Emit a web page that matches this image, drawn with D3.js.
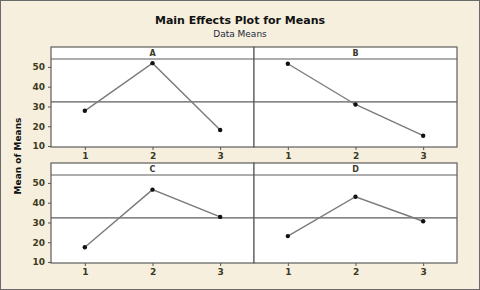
<!DOCTYPE html>
<html>
<head>
<meta charset="utf-8">
<script src="https://cdn.jsdelivr.net/npm/d3@7"></script>
<style>
  body { margin: 0; background: #f6efdd; }
  svg { display: block; }
  text { font-family: "DejaVu Sans", Verdana, sans-serif; }
</style>
</head>
<body>
<svg id="chart" width="480" height="290"></svg>
<script>
// factor levels and the means
const levels = [1, 2, 3];
const factors = ["A", "B", "C", "D"];
const meansA = [27.8, 51.9, 18.1];
const meansB = [51.6, 31.0, 15.2];
const meansC = [17.5, 46.6, 32.8];
const meansD = [23.1, 43.0, 30.6];
const grandMean = 32.3;
const yTicks = [10, 20, 30, 40, 50];

const seriesList = [meansA, meansB, meansC, meansD];

const width = 480, height = 290;
const left = 51, right = 457;
const colW = (right - left) / 2;
const rowTops = [47, 163];
const stripH = 12;
const plotH = 88;

const svg = d3.select("#chart");

// frame of the whole image
svg.append("rect")
	.attr("x", 0.5).attr("y", 0.5)
	.attr("width", width - 1).attr("height", height - 1)
	.attr("fill", "#f6efdd")
	.attr("stroke", "#6b6b6b")
	.attr("stroke-width", 1);

// titles
svg.append("text")
	.attr("x", 240).attr("y", 24)
	.attr("text-anchor", "middle")
	.style("font-size", "11px")
	.style("font-weight", "bold")
	.attr("fill", "#111")
	.text("Main Effects Plot for Means");

svg.append("text")
	.attr("x", 240).attr("y", 37)
	.attr("text-anchor", "middle")
	.style("font-size", "9px")
	.attr("fill", "#1f2a40")
	.text("Data Means");

svg.append("text")
	.attr("transform", `translate(21, 156) rotate(-90)`)
	.attr("text-anchor", "middle")
	.style("font-size", "9px")
	.style("font-weight", "bold")
	.attr("fill", "#111")
	.text("Mean of Means");

const xScale = d3.scaleLinear().domain([0.5, 3.5]).range([0, colW]);

factors.forEach((name, i) => {
	const col = i % 2;
	const row = Math.floor(i / 2);
	const x0 = left + col * colW;
	const stripTop = rowTops[row];
	const plotTop = stripTop + stripH;
	const plotBottom = plotTop + plotH;

	const yScale = d3.scaleLinear().domain([9.5, 54]).range([plotBottom, plotTop]);

	const g = svg.append("g").attr("transform", `translate(${x0}, 0)`);

	// strip + plot background
	g.append("rect")
		.attr("x", 0).attr("y", stripTop)
		.attr("width", colW).attr("height", stripH + plotH)
		.attr("fill", "white");

	g.append("text")
		.attr("x", colW / 2).attr("y", stripTop + stripH - 3)
		.attr("text-anchor", "middle")
		.style("font-size", "8px")
		.style("font-weight", "bold")
		.attr("fill", "#3a3a2a")
		.text(name);

	// reference line at grand mean
	g.append("line")
		.attr("x1", 0).attr("x2", colW)
		.attr("y1", yScale(grandMean)).attr("y2", yScale(grandMean))
		.attr("stroke", "#5c5c5c")
		.attr("stroke-width", 1.2);

	// strip bottom line
	g.append("line")
		.attr("x1", 0).attr("x2", colW)
		.attr("y1", plotTop).attr("y2", plotTop)
		.attr("stroke", "#5c5c5c")
		.attr("stroke-width", 1.2);

	const values = seriesList[i];
	const line = d3.line()
		.x((d, j) => xScale(levels[j]))
		.y(d => yScale(d));

	g.append("path")
		.datum(values)
		.attr("d", line)
		.attr("fill", "none")
		.attr("stroke", "#7a7a7a")
		.attr("stroke-width", 1.4);

	g.selectAll(".pt")
		.data(values)
		.enter()
		.append("circle")
		.attr("class", "pt")
		.attr("cx", (d, j) => xScale(levels[j]))
		.attr("cy", d => yScale(d))
		.attr("r", 2.2)
		.attr("fill", "#111");

	// x axis
	const xAxis = g.append("g")
		.attr("transform", `translate(0, ${plotBottom})`)
		.call(d3.axisBottom(xScale).tickValues(levels).tickFormat(d3.format("d")).tickSize(3).tickPadding(3));
	xAxis.select(".domain").remove();
	xAxis.selectAll("line").attr("stroke", "#555");
	xAxis.selectAll("text")
		.style("font-size", "9px")
		.style("font-weight", "bold")
		.attr("fill", "#3a3a22");

	// y axis, left column only
	if (col === 0) {
		const yAxis = g.append("g")
			.call(d3.axisLeft(yScale).tickValues(yTicks).tickSize(3).tickPadding(3));
		yAxis.select(".domain").remove();
		yAxis.selectAll("line").attr("stroke", "#555");
		yAxis.selectAll("text")
			.style("font-size", "9px")
			.style("font-weight", "bold")
			.attr("fill", "#3a3a22");
	}

	// panel border
	g.append("rect")
		.attr("x", 0).attr("y", stripTop)
		.attr("width", colW).attr("height", stripH + plotH)
		.attr("fill", "none")
		.attr("stroke", "#5c5c5c")
		.attr("stroke-width", 1.2);
});
</script>
</body>
</html>
